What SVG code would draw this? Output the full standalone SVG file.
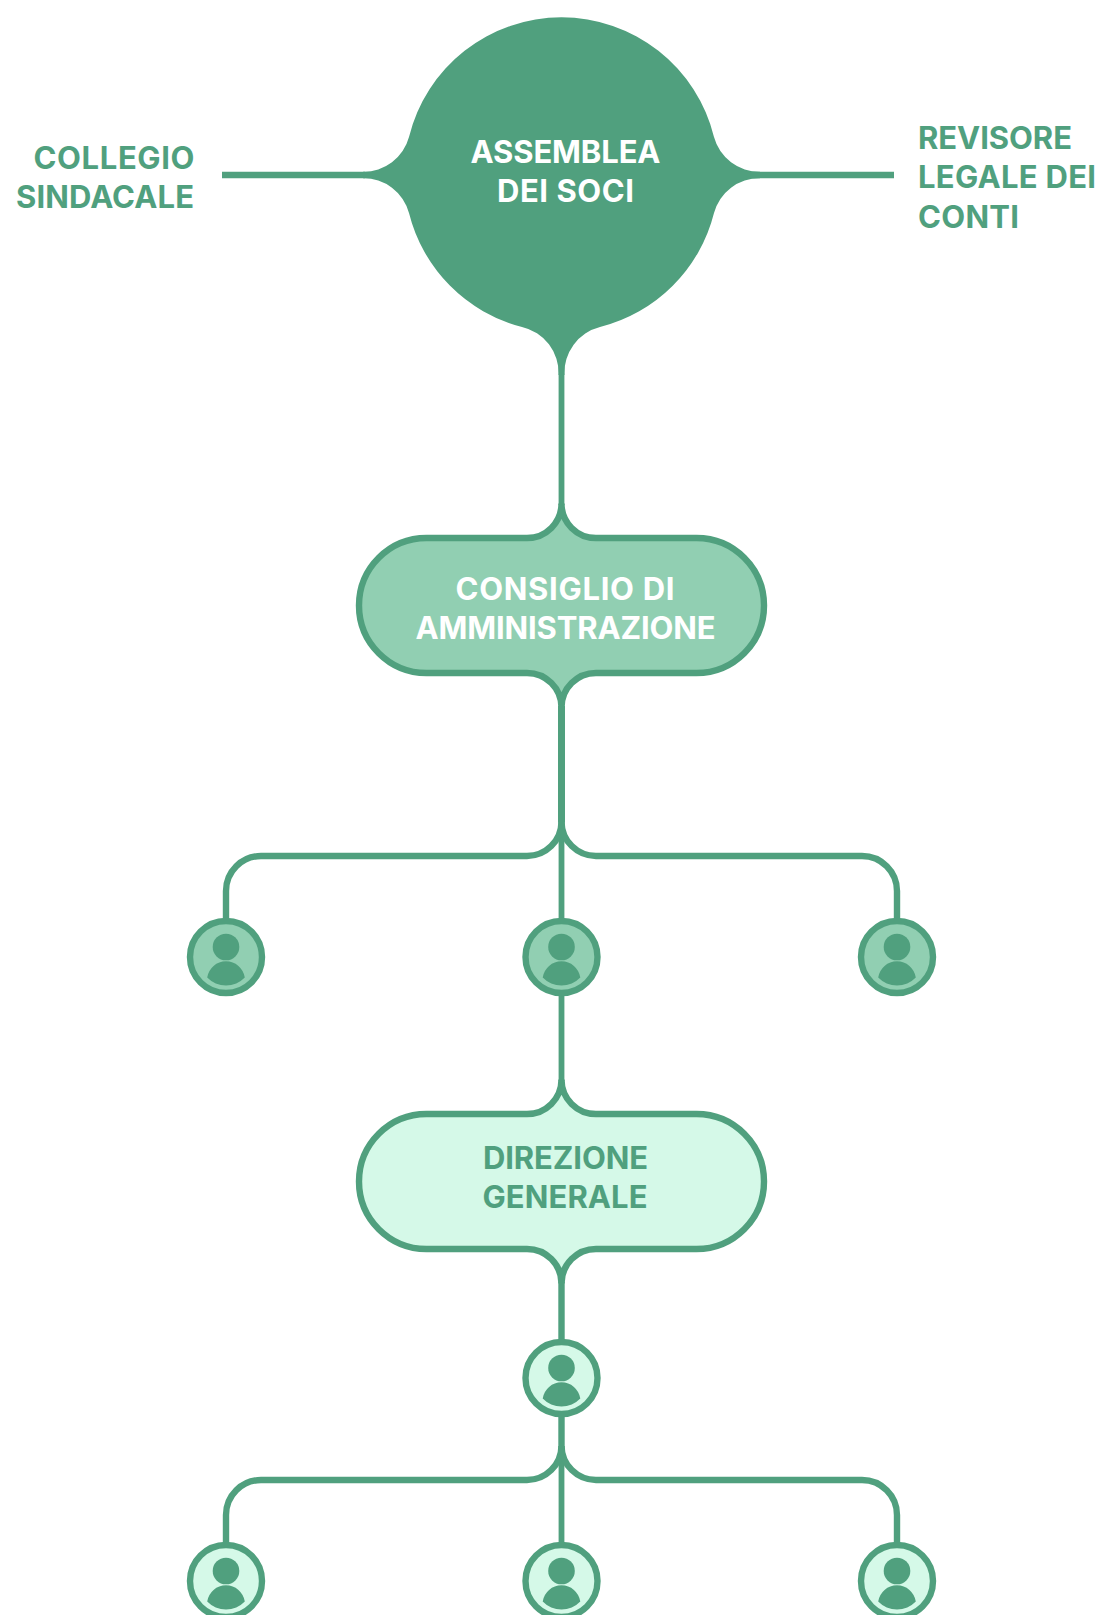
<svg xmlns="http://www.w3.org/2000/svg" width="1098" height="1615" viewBox="0 0 1098 1615">
<style>
.c{fill:none;stroke:#50A07E;stroke-width:6.400}
.t{font-family:Inter,"Liberation Sans",sans-serif;font-size:31px;font-weight:700}
.g{fill:#50A07E}
.w{fill:#fff}
.m{fill:#91CFB2;stroke:#50A07E;stroke-width:6.400}
.l{fill:#D5F9E8;stroke:#50A07E;stroke-width:6.400}
</style>
<defs>
<g id="p"><circle cx="0" cy="-10" r="13.300" class="g"/><path class="g" d="M-18.800 20.500A19 19 0 0 1 18.800 20.500A26 26 0 0 1 -18.800 20.500Z"/></g>
</defs>
<rect width="1098" height="1615" fill="#fff"/>
<g id="connectors">
<path class="c" d="M222 175H365M748 175H894"/>
<path class="c" d="M561.500 360V505" style="stroke-width:5.800"/>
<path class="c" d="M561.500 706V822" style="stroke-width:7"/>
<path class="c" d="M561.500 822V918" style="stroke-width:5.800"/>
<path class="c" d="M561.500 822A34.500 34.500 0 0 1 527 856H261A35 35 0 0 0 226 891V918"/>
<path class="c" d="M561.500 822A34.500 34.500 0 0 0 596 856H862A35 35 0 0 1 897 891V918"/>
<path class="c" d="M561.500 995V1081" style="stroke-width:5.800"/>
<path class="c" d="M561.500 1282V1342"/>
<path class="c" d="M561.500 1414V1446"/>
<path class="c" d="M561.500 1446V1543" style="stroke-width:5.800"/>
<path class="c" d="M561.500 1446A34.500 34.500 0 0 1 527 1480H261A35 35 0 0 0 226 1515V1543"/>
<path class="c" d="M561.500 1446A34.500 34.500 0 0 0 596 1480H862A35 35 0 0 1 897 1515V1543"/>
</g>
<g id="assemblea">
<path class="g" d="M363 171.800A47 47 0 0 0 409 137A157 157 0 0 1 714 137A47 47 0 0 0 760 171.800V178.200A47 47 0 0 0 714 213A157 157 0 0 1 600 327A47 47 0 0 0 564.500 375H558.500A47 47 0 0 0 522 327A157 157 0 0 1 409 213A47 47 0 0 0 363 178.200Z"/>
<text class="t w" x="565.500" y="163" text-anchor="middle" textLength="190">ASSEMBLEA</text>
<text class="t w" x="565.500" y="202" text-anchor="middle" textLength="137">DEI SOCI</text>
</g>
<g id="collegio">
<text class="t g" x="194.500" y="169" text-anchor="end" textLength="161">COLLEGIO</text>
<text class="t g" x="194" y="208" text-anchor="end" textLength="178">SINDACALE</text>
</g>
<g id="revisore">
<text class="t g" x="918" y="149" textLength="154">REVISORE</text>
<text class="t g" x="918" y="188" textLength="178">LEGALE DEI</text>
<text class="t g" x="918" y="228" textLength="101">CONTI</text>
</g>
<g id="consiglio">
<path class="m" d="M426.500 538H527A34.500 34.500 0 0 0 561.500 503.500A34.500 34.500 0 0 0 596 538H696.500A67.500 67.500 0 0 1 696.500 673H596A34.500 34.500 0 0 0 561.500 707.500A34.500 34.500 0 0 0 527 673H426.500A67.500 67.500 0 0 1 426.500 538Z"/>
<text class="t w" x="565" y="600" text-anchor="middle" textLength="219">CONSIGLIO DI</text>
<text class="t w" x="565.500" y="639" text-anchor="middle" textLength="300">AMMINISTRAZIONE</text>
</g>
<g id="direzione">
<path class="l" d="M426.500 1114H527A34.500 34.500 0 0 0 561.500 1079.500A34.500 34.500 0 0 0 596 1114H696.500A67.500 67.500 0 0 1 696.500 1249H596A34.500 34.500 0 0 0 561.500 1283.500A34.500 34.500 0 0 0 527 1249H426.500A67.500 67.500 0 0 1 426.500 1114Z"/>
<text class="t g" x="565.500" y="1169" text-anchor="middle" textLength="165">DIREZIONE</text>
<text class="t g" x="565" y="1208" text-anchor="middle" textLength="165">GENERALE</text>
</g>
<g id="person1"><circle class="m" cx="226" cy="957" r="36"/><use href="#p" x="226" y="957"/></g>
<g id="person2"><circle class="m" cx="561.500" cy="957" r="36"/><use href="#p" x="561.500" y="957"/></g>
<g id="person3"><circle class="m" cx="897" cy="957" r="36"/><use href="#p" x="897" y="957"/></g>
<g id="person4"><circle class="l" cx="561.500" cy="1378" r="36"/><use href="#p" x="561.500" y="1378"/></g>
<g id="person5"><circle class="l" cx="226" cy="1581" r="36"/><use href="#p" x="226" y="1581"/></g>
<g id="person6"><circle class="l" cx="561.500" cy="1581" r="36"/><use href="#p" x="561.500" y="1581"/></g>
<g id="person7"><circle class="l" cx="897" cy="1581" r="36"/><use href="#p" x="897" y="1581"/></g>
</svg>
